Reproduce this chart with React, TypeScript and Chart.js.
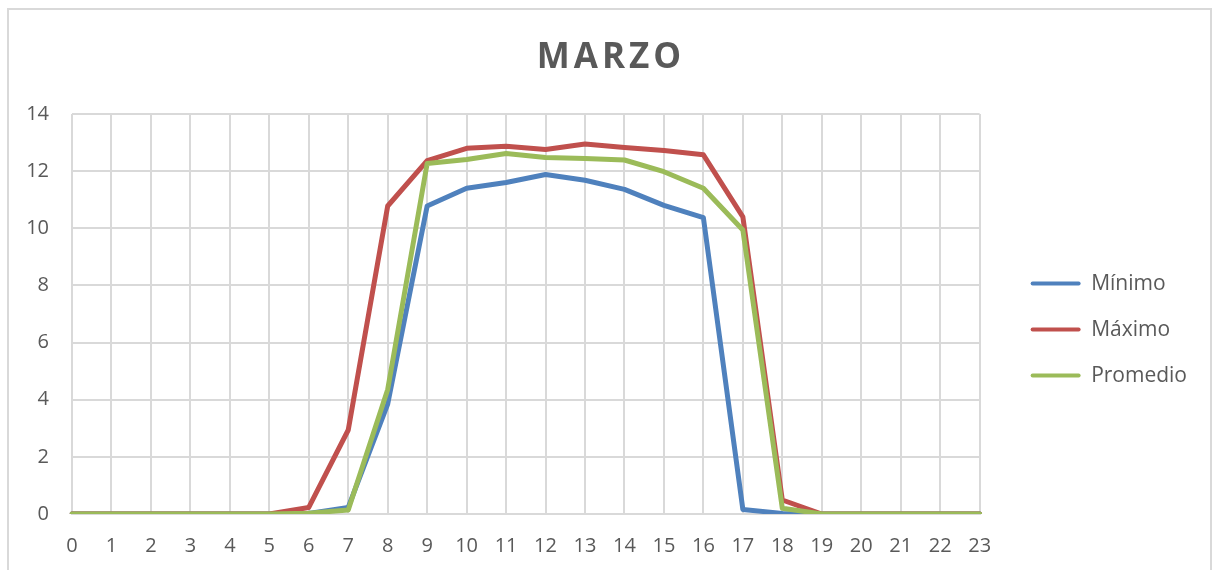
import React, { useEffect, useRef } from 'react';
import { Chart, registerables } from 'chart.js';

Chart.register(...registerables);

const chartTitle = 'MARZO';
const hours = ['0', '1', '2', '3', '4', '5', '6', '7', '8', '9', '10', '11', '12', '13', '14', '15', '16', '17', '18', '19', '20', '21', '22', '23'];
const seriesNames = ['Mínimo', 'Máximo', 'Promedio'];
const minimo = [0, 0, 0, 0, 0, 0, 0.02, 0.23, 3.85, 10.78, 11.4, 11.6, 11.88, 11.68, 11.36, 10.8, 10.37, 0.16, 0.02, 0, 0, 0, 0, 0];
const maximo = [0, 0, 0, 0, 0, 0, 0.23, 2.94, 10.78, 12.37, 12.8, 12.87, 12.76, 12.95, 12.83, 12.72, 12.57, 10.4, 0.49, 0, 0, 0, 0, 0];
const promedio = [0, 0, 0, 0, 0, 0, 0.03, 0.14, 4.36, 12.27, 12.41, 12.62, 12.48, 12.44, 12.39, 11.98, 11.4, 9.94, 0.2, 0, 0, 0, 0, 0];
const yMin = 0;
const yMax = 14;
const yStep = 2;
const seriesColors = ['#4F81BD', '#C0504D', '#9BBB59'];

const FONT = '"Open Sans", sans-serif';
const TEXT = '#595959';
const GRID = '#d9d9d9';

export default function App() {
  const ref = useRef<HTMLCanvasElement>(null);

  useEffect(() => {
    document.body.style.margin = '0';
    const framePlugin = {
      id: 'frame',
      beforeDraw(chart: any) {
        const ctx = chart.ctx;
        ctx.save();
        ctx.strokeStyle = GRID;
        ctx.lineWidth = 2;
        ctx.strokeRect(8, 9, 1203, 700);
        ctx.restore();
      },
    };
    const titlePlugin = {
      id: 'spacedTitle',
      afterDraw(chart: any) {
        const ctx = chart.ctx;
        ctx.save();
        ctx.font = `bold 35px ${FONT}`;
        (ctx as any).letterSpacing = '4px';
        ctx.fillStyle = TEXT;
        ctx.textAlign = 'center';
        ctx.textBaseline = 'alphabetic';
        ctx.fillText(chartTitle, 611, 68);
        ctx.restore();
      },
    };

    const series = [minimo, maximo, promedio];
    const chart = new Chart(ref.current as HTMLCanvasElement, {
      type: 'line',
      data: {
        labels: hours,
        datasets: series.map((d, i) => ({
          label: seriesNames[i],
          data: d,
          borderColor: seriesColors[i],
          backgroundColor: seriesColors[i],
          borderWidth: 5,
          pointRadius: 0,
          pointHoverRadius: 0,
          tension: 0,
          fill: false,
          borderJoinStyle: 'round' as const,
          borderCapStyle: 'round' as const,
          order: 3 - i,
          yAxisID: 'y',
        })),
      },
      options: {
        responsive: false,
        animation: false,
        layout: { padding: { top: 114, bottom: 12, left: 0, right: 19 } },
        plugins: {
          tooltip: { enabled: false },
          title: { display: false },
          legend: {
            position: 'right',
            fullSize: false,
            title: { display: true, text: ' ', color: 'rgba(0,0,0,0)', font: { size: 21, family: FONT }, padding: 3 },
            labels: {
              boxWidth: 50,
              boxHeight: 4,
              padding: 25,
              color: TEXT,
              font: { size: 21, family: FONT },
              sort: (a: any, b: any) => a.datasetIndex - b.datasetIndex,
              generateLabels: (c: any) =>
                (Chart.defaults.plugins.legend.labels.generateLabels as any)(c).map((l: any) => ({
                  ...l,
                  lineWidth: 0,
                  fillStyle: seriesColors[l.datasetIndex],
                  borderRadius: 2,
                })),
            },
          },
        },
        scales: {
          x: {
            type: 'category',
            offset: false,
            grid: { color: GRID, lineWidth: 2, drawTicks: false },
            border: { color: GRID, width: 2 },
            ticks: { color: TEXT, font: { size: 20, family: FONT }, padding: 20, autoSkip: false, maxRotation: 0 },
            afterFit: (s: any) => { s.height = 44; },
          },
          y: {
            type: 'linear',
            min: yMin,
            max: yMax,
            grid: { color: GRID, lineWidth: 2, drawTicks: false },
            border: { display: false },
            ticks: { stepSize: yStep, color: TEXT, font: { size: 20, family: FONT }, padding: 23 },
            afterFit: (s: any) => { s.width = 72; },
          },
          spacer: {
            type: 'linear',
            position: 'right',
            display: true,
            grid: { display: false, drawTicks: false },
            border: { display: false },
            ticks: { display: false },
            afterFit: (s: any) => { s.width = 26; },
          },
        },
      },
      plugins: [framePlugin, titlePlugin],
    } as any);
    return () => chart.destroy();
  }, []);

  return (
    <div style={{ position: 'absolute', left: 0, top: 0, width: 1216, height: 570, background: '#fff', overflow: 'hidden' }}>
      <canvas ref={ref} width={1216} height={570} style={{ display: 'block' }} />
    </div>
  );
}
